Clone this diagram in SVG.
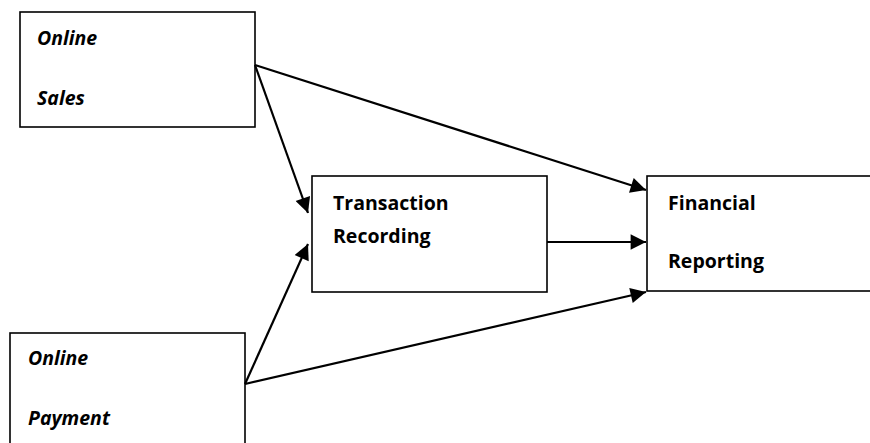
<svg xmlns="http://www.w3.org/2000/svg" width="870" height="443" viewBox="0 0 870 443">
<defs>
<style>
.box{fill:#fff;stroke:#000;stroke-width:1.6}
.t{font-family:"Open Sans","Noto Sans","Liberation Sans",sans-serif;font-size:19.5px;font-weight:bold;fill:#000}
.i{font-style:italic}
.c{stroke:#000;stroke-width:2.2;fill:none;marker-end:url(#ah)}
</style>
<marker id="ah" viewBox="0 0 10 10" refX="10" refY="5" markerWidth="8" markerHeight="7" markerUnits="strokeWidth" orient="auto">
<path d="M0,0 L10,5 L0,10 Z" fill="#000"/>
</marker>
</defs>
<rect width="870" height="443" fill="#fff"/>
<g id="online-sales">
<rect class="box" x="20" y="12" width="235" height="115"/>
<text class="t i" x="37" y="45">Online</text>
<text class="t i" x="37" y="105">Sales</text>
</g>
<g id="transaction-recording">
<rect class="box" x="312" y="176" width="235" height="116"/>
<text class="t" x="333" y="210">Transaction</text>
<text class="t" x="333" y="243">Recording</text>
</g>
<g id="online-payment">
<rect class="box" x="10" y="333" width="235" height="120"/>
<text class="t i" x="28" y="365">Online</text>
<text class="t i" x="28" y="425">Payment</text>
</g>
<g id="financial-reporting">
<rect class="box" x="647" y="176" width="240" height="115"/>
<text class="t" x="668" y="210">Financial</text>
<text class="t" x="668" y="268">Reporting</text>
</g>
<g id="connectors">
<line class="c" x1="255" y1="65" x2="646" y2="190"/>
<line class="c" x1="255" y1="65" x2="308" y2="213"/>
<line class="c" x1="547" y1="242" x2="646" y2="242"/>
<line class="c" x1="245" y1="384" x2="308" y2="244"/>
<line class="c" x1="245" y1="384" x2="646" y2="292"/>
</g>
</svg>
